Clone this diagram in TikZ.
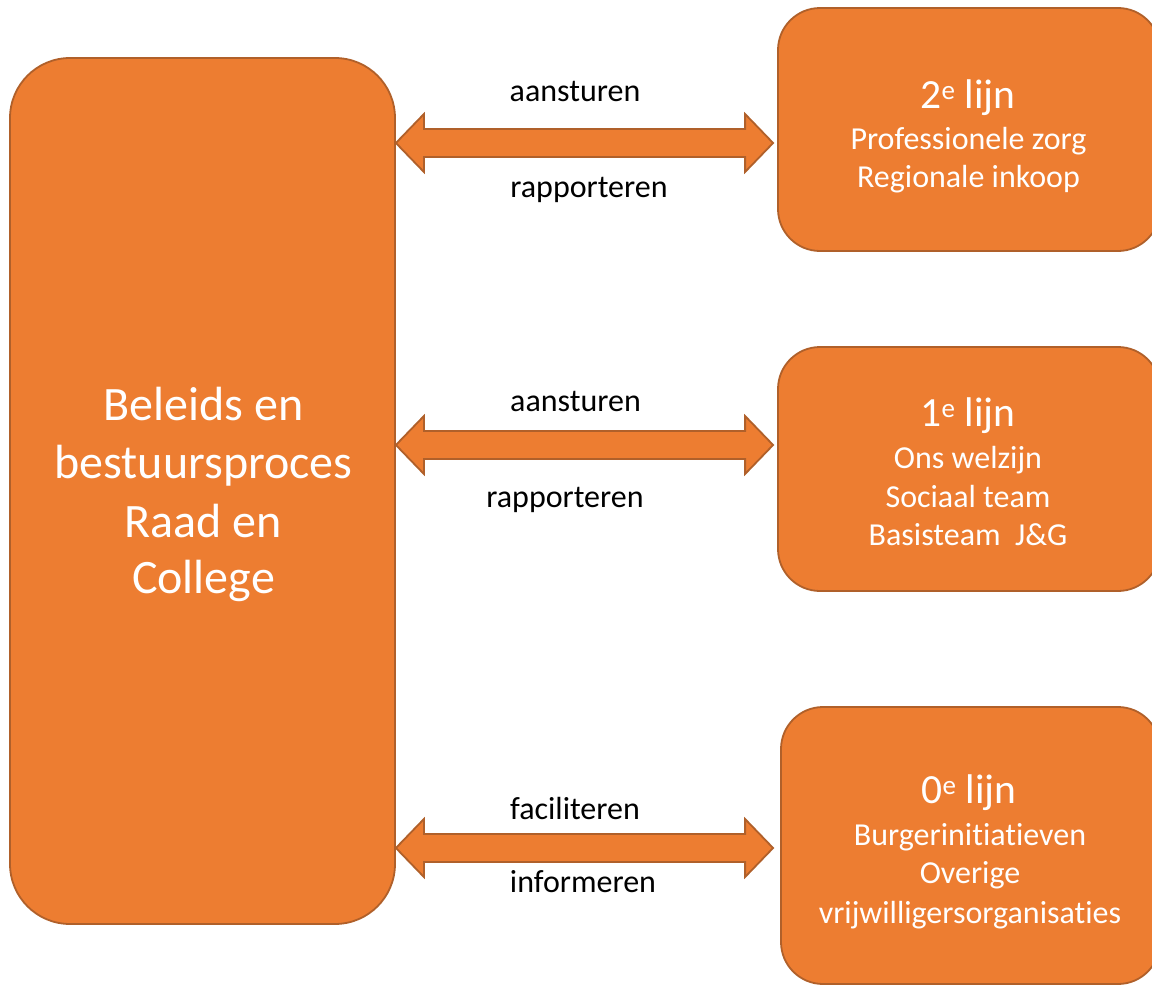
\documentclass[tikz,border=0pt]{standalone}
\usepackage{fontspec}
\setmainfont{Carlito}[Ligatures={NoCommon,NoContextual}]
\usetikzlibrary{calc}

\definecolor{boxfill}{HTML}{ED7D31}
\definecolor{boxline}{HTML}{B0602A}

% ordinal superscript "e"
\newcommand\ordsup{\raisebox{8.5pt}{\fontsize{27}{27}\selectfont e}}

% double-headed block arrow between two tip points
\newcommand\twoway[2]{%
  \draw[blockarrow] (#1) -- ($(#1)+(28,-29)$) -- ($(#1)+(28,-14)$)
    -- ($(#2)+(-28,-14)$) -- ($(#2)+(-28,-29)$) -- (#2)
    -- ($(#2)+(-28,29)$) -- ($(#2)+(-28,14)$)
    -- ($(#1)+(28,14)$) -- ($(#1)+(28,29)$) -- cycle;}

\tikzset{
  panel/.style={draw=boxline, fill=boxfill, line width=1.8pt,
                rounded corners=#1, inner sep=0pt},
  blockarrow/.style={draw=boxline, fill=boxfill, line width=1.8pt, line join=miter},
  bigtxt/.style={text=white, inner sep=0pt, anchor=base,
                 font=\fontsize{48}{58}\selectfont},
  headtxt/.style={text=white, inner sep=0pt, anchor=base,
                  font=\fontsize{41.5}{41}\selectfont},
  subtxt/.style={text=white, inner sep=0pt, anchor=base,
                 font=\fontsize{32}{38}\selectfont},
  lbl/.style={text=black, inner sep=0pt, anchor=base,
              font=\fontsize{32}{38}\selectfont},
}

\begin{document}
\begin{tikzpicture}[x=1pt, y=-1pt]
  \useasboundingbox (0,0) rectangle (1152,985);
  \clip (0,0) rectangle (1152,985);

  % main box
  \node[panel=60pt, minimum width=385pt, minimum height=866pt] (L) at (202.5,491) {};
  \node[bigtxt] (l1) at (203.5,420) {Beleids en};
  \node[bigtxt] (l2) at (203.5,478) {bestuursproces};
  \node[bigtxt] (l3) at (203.5,537) {Raad en};
  \node[bigtxt] (l4) at (203.5,593) {College};

  % second line
  \node[panel=42pt, minimum width=382pt, minimum height=243pt] (R2) at (969,129.5) {};
  \node[headtxt] (h2) at (968,108) {2\ordsup\ lijn};
  \node[subtxt] (s2a) at (968.5,149) {Professionele zorg};
  \node[subtxt] (s2b) at (968.5,187) {Regionale inkoop};

  % first line
  \node[panel=42pt, minimum width=382pt, minimum height=244pt] (R1) at (969,469) {};
  \node[headtxt] (h1) at (968,426) {1\ordsup\ lijn};
  \node[subtxt] (s1a) at (968,468) {Ons welzijn};
  \node[subtxt] (s1b) at (968,507) {Sociaal team};
  \node[subtxt] (s1c) at (968,545) {Basisteam\ \ J\&G};

  % zero line
  \node[panel=42pt, minimum width=379pt, minimum height=277pt] (R0) at (970.5,845.5) {};
  \node[headtxt] (h0) at (969,803) {0\ordsup\ lijn};
  \node[subtxt] (s0a) at (970,845) {Burgerinitiatieven};
  \node[subtxt] (s0b) at (970,883) {Overige};
  \node[subtxt] (s0c) at (970,923) {vrijwilligersorganisaties};

  % arrow tips
  \coordinate (a2l) at (L.east |- 0,143);
  \coordinate (a2r) at ([xshift=-4pt]R2.west |- 0,143);
  \coordinate (a1l) at (L.east |- 0,445);
  \coordinate (a1r) at ([xshift=-4pt]R1.west |- 0,445);
  \coordinate (a0l) at (L.east |- 0,848);
  \coordinate (a0r) at ([xshift=-7pt]R0.west |- 0,848);

  \twoway{a2l}{a2r}
  \twoway{a1l}{a1r}
  \twoway{a0l}{a0r}

  % arrow labels
  \node[lbl] (t2a) at (575,101) {aansturen};
  \node[lbl] (t2b) at (589,197) {rapporteren};
  \node[lbl] (t1a) at (575.5,411) {aansturen};
  \node[lbl] (t1b) at (565,507) {rapporteren};
  \node[lbl] (t0a) at (575,819) {faciliteren};
  \node[lbl] (t0b) at (583,892) {informeren};
\end{tikzpicture}
\end{document}
